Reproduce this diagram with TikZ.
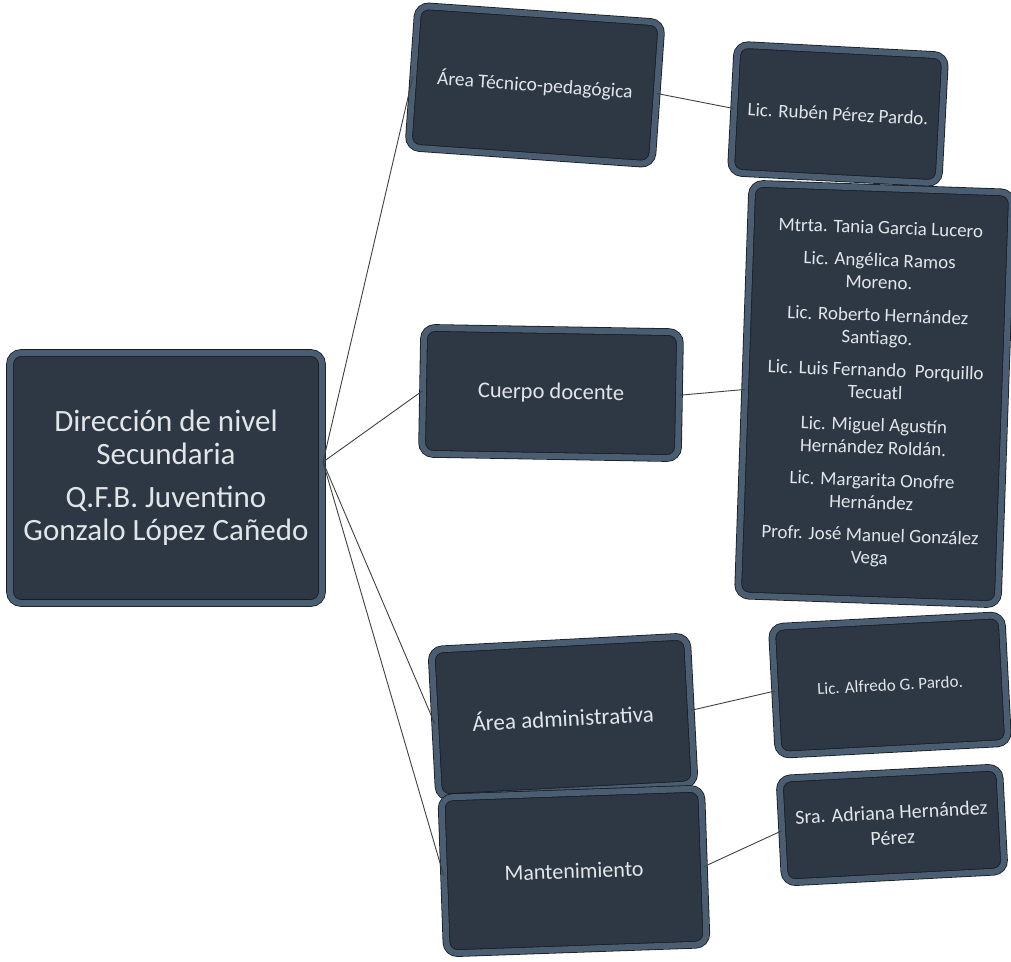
\documentclass[tikz,border=0pt]{standalone}
\usepackage{fontspec}
\setmainfont{Carlito}
\usetikzlibrary{shadows}

\definecolor{boxface}{HTML}{2D3844}
\definecolor{boxband}{HTML}{4B5D70}
\definecolor{boxedge}{HTML}{161C23}
\definecolor{boxtext}{HTML}{E2E5E8}

\tikzset{
  orgbox/.style={draw=boxedge, line width=0.8pt, double=boxband, double distance=6pt,
    fill=boxface, rounded corners=11pt, text=boxtext, align=center, inner sep=4pt,
    drop shadow={shadow xshift=2pt, shadow yshift=-3pt, opacity=0.35, fill=black!60}},
  link/.style={draw=black!75, line width=0.9pt}
}

\begin{document}
\begin{tikzpicture}[x=1pt,y=-1pt]
\useasboundingbox (0,0) rectangle (1011,961);

%% boxes
\node[orgbox, minimum width=312pt, minimum height=250pt, font=\fontsize{31}{33}\selectfont]
  (dir) at (166,478) {Dirección de nivel\\Secundaria\\[10pt]Q.F.B. Juventino\\Gonzalo López Cañedo};   %% root
\node[orgbox, minimum width=244pt, minimum height=142pt, rotate=-4, font=\fontsize{19.5}{22}\selectfont]
  (tec) at (535,85) {Área Técnico-pedagógica};
\node[orgbox, minimum width=208pt, minimum height=128pt, rotate=-3, font=\fontsize{19}{22}\selectfont]
  (ruben) at (838,114) {Lic. Rubén Pérez Pardo.};
\node[orgbox, minimum width=256pt, minimum height=126pt, rotate=-1, font=\fontsize{22.5}{26}\selectfont]
  (docente) at (551,393) {Cuerpo docente};
\node[orgbox, minimum width=260pt, minimum height=412pt, rotate=-2, font=\fontsize{19}{22.5}\selectfont]
  (maestros) at (875,394) {Mtrta. Tania Garcia Lucero\\[10pt]
    Lic. Angélica Ramos\\Moreno.\\[10pt]
    Lic. Roberto Hernández\\Santiago.\\[10pt]
    Lic. Luis Fernando\ \ Porquillo\\Tecuatl\\[10pt]
    Lic. Miguel Agustín\\Hernández Roldán.\\[10pt]
    Lic. Margarita Onofre\\Hernández\\[10pt]
    Profr. José Manuel González\\Vega};
\node[orgbox, minimum width=256pt, minimum height=148pt, rotate=3, font=\fontsize{23}{26}\selectfont]
  (admin) at (563,717) {Área administrativa};
\node[orgbox, minimum width=230pt, minimum height=128pt, rotate=3, font=\fontsize{17}{20}\selectfont]
  (alfredo) at (890,685) {Lic. Alfredo G. Pardo.};
\node[orgbox, minimum width=260pt, minimum height=156pt, rotate=2, font=\fontsize{22}{26}\selectfont]
  (mant) at (574,871) {Mantenimiento};
\node[orgbox, minimum width=220pt, minimum height=104pt, rotate=3, font=\fontsize{20}{25.5}\selectfont]
  (adriana) at (892,825) {Sra. Adriana Hernández\\Pérez};

%% edges
\coordinate (hub) at (323,462);
\draw[link] (hub) -- (tec.west);
\draw[link] (hub) -- (docente.west);
\draw[link] (hub) -- (admin.west);
\draw[link] (hub) -- (mant.west);
\draw[link] (tec.east) -- (ruben.west);
\draw[link] (docente.east) -- (maestros.west);
\draw[link] (admin.east) -- (alfredo.west);
\draw[link] (mant.east) -- (adriana.west);
\end{tikzpicture}
\end{document}
